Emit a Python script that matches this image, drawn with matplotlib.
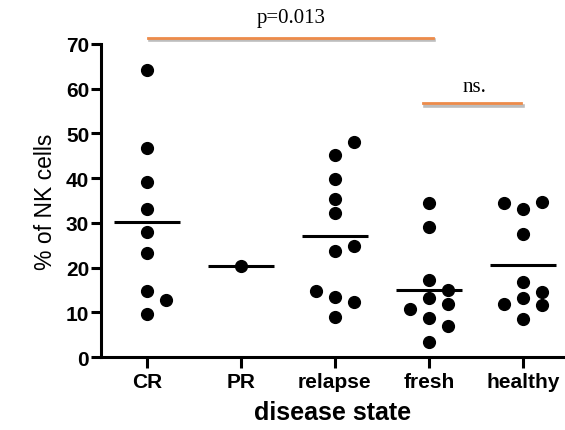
import numpy as np
import matplotlib
matplotlib.use('Agg')
import matplotlib.pyplot as plt

# values (% of NK cells per patient)
groups = ['CR', 'PR', 'relapse', 'fresh', 'healthy']
cr = [64.2, 46.7, 39.1, 33.1, 28.0, 23.3, 14.7, 12.8, 9.6]
pr = [20.4]
relapse = [45.2, 39.8, 32.2, 23.6, 13.5, 9.0, 48.0, 35.3, 24.8, 12.4, 14.8]
fresh = [34.5, 29.0, 13.1, 8.7, 3.4, 11.9, 15.0, 7.0, 17.2, 10.7]
healthy = [33.1, 34.6, 34.5, 27.5, 13.1, 8.5, 11.6, 11.9, 16.8, 14.5]
all_values = [cr, pr, relapse, fresh, healthy]

p_label = 'p=0.013'
ns_label = 'ns.'


def swarm_offsets(vals, ax, slot=0.2, diam_px=12.8):
    # simple beeswarm on discrete slots, collisions checked in pixel space
    px_per_x = ax.transData.transform((1, 0))[0] - ax.transData.transform((0, 0))[0]
    px_per_y = ax.transData.transform((0, 1))[1] - ax.transData.transform((0, 0))[1]
    placed = []
    offs = []
    for v in vals:
        for k in [0, 1, -1, 2, -2]:
            ok = True
            for (pk, pv) in placed:
                dx = (k - pk) * slot * px_per_x
                dy = (v - pv) * px_per_y
                if np.hypot(dx, dy) < diam_px:
                    ok = False
                    break
            if ok:
                placed.append((k, v))
                offs.append(k * slot)
                break
    return np.array(offs)


fig = plt.figure(figsize=(5.65, 4.31), dpi=100)
ax = fig.add_axes([101 / 565, 1 - 358 / 431, 1 - 101 / 565, (358 - 45) / 431])
ax.set_xlim(-0.49, 4.45)
ax.set_ylim(0, 70)

for i, vals in enumerate(all_values):
    offs = swarm_offsets(vals, ax)
    ax.scatter(i + offs, vals, s=72, color='black', zorder=3, clip_on=False)
    m = np.mean(vals)
    ax.plot([i - 0.35, i + 0.35], [m, m], color='black', lw=2.2, zorder=2,
            solid_capstyle='butt')

for side in ['top', 'right']:
    ax.spines[side].set_visible(False)
for side in ['left', 'bottom']:
    ax.spines[side].set_linewidth(2.2)

ax.set_xticks(range(len(groups)))
ax.set_xticklabels(groups)
ax.set_yticks(range(0, 71, 10))
ax.tick_params(axis='x', width=2.2, length=8, pad=3, labelsize=15)
ax.tick_params(axis='y', width=2.2, length=7.5, pad=1, labelsize=15)
for lab in ax.get_xticklabels() + ax.get_yticklabels():
    lab.set_fontweight('bold')
    lab.set_fontfamily('Liberation Sans')

ax.set_ylabel('% of NK cells', fontsize=16.5, fontfamily='Liberation Sans', labelpad=6)
ax.set_xlabel('disease state', fontsize=18, fontweight='bold',
              fontfamily='Liberation Sans', labelpad=6)

# significance bars with a soft grey shadow
orange = '#ED8B4A'
for (x0, x1, y) in [(0.01, 3.04, 71.4), (2.94, 3.98, 56.8)]:
    ax.plot([x0 + 0.02, x1 + 0.02], [y - 0.6, y - 0.6], color='#bdbdbd', lw=2.6,
            clip_on=False, zorder=1)
    ax.plot([x0, x1], [y, y], color=orange, lw=2.0, clip_on=False, zorder=2)

ax.text(1.54, 76, p_label, ha='center', va='center', fontsize=15,
        fontfamily='Liberation Serif')
ax.text(3.49, 60.4, ns_label, ha='center', va='center', fontsize=15,
        fontfamily='Liberation Serif')

plt.savefig('out.png', dpi=100)
